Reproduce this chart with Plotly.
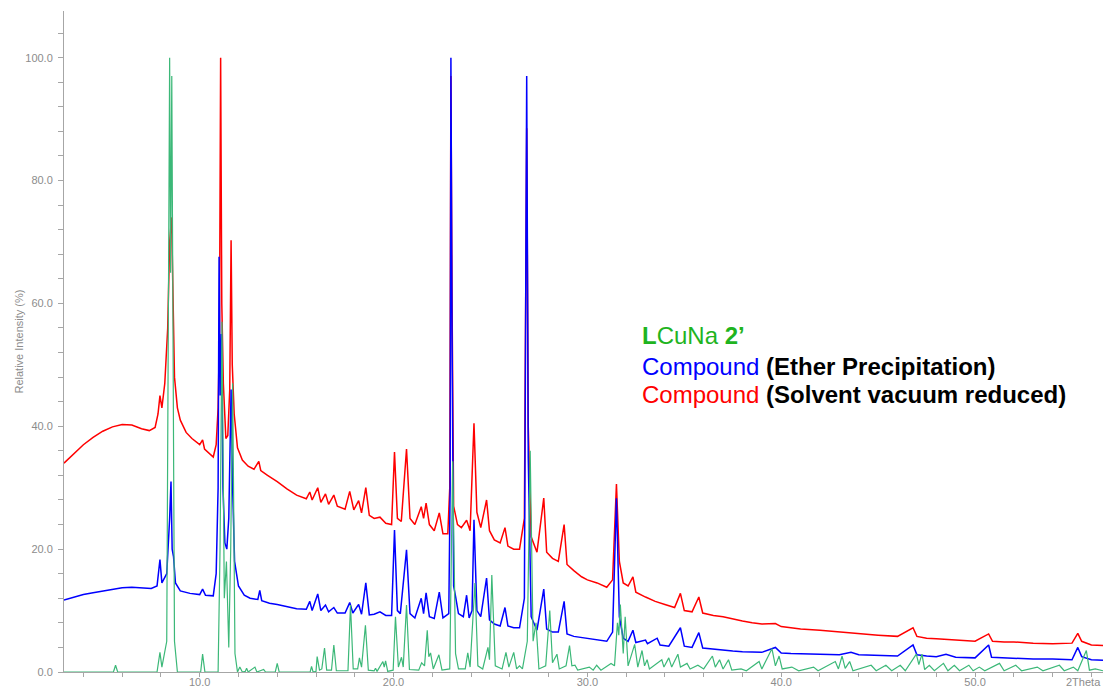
import plotly.graph_objects as go

# ---------------- data ----------------
# (2theta, relative intensity %) points for each pattern
red_points = [
    (3.0, 34.0), (3.5, 35.5), (4.0, 37.0), (4.5, 38.2), (5.0, 39.2), (5.5, 39.9),
    (6.0, 40.3), (6.5, 40.2), (7.0, 39.6), (7.4, 39.3), (7.7, 39.8), (7.85, 42.0),
    (7.95, 45.0), (8.05, 43.0), (8.2, 47.0), (8.35, 56.0), (8.45, 70.0), (8.55, 74.0),
    (8.62, 60.0), (8.7, 48.0), (8.85, 43.0), (9.0, 41.0), (9.3, 39.0), (9.6, 38.0),
    (10.0, 37.0), (10.15, 37.8), (10.25, 36.3), (10.5, 35.5), (10.7, 35.0), (10.85, 37.0),
    (10.95, 43.0), (11.02, 55.0), (11.08, 100.0), (11.14, 60.0), (11.22, 47.0),
    (11.35, 38.0), (11.45, 38.5), (11.55, 46.0), (11.62, 70.3), (11.68, 50.0),
    (11.78, 42.0), (11.95, 36.5), (12.2, 34.5), (12.5, 33.5), (12.8, 33.0),
    (13.05, 34.3), (13.15, 32.8), (13.5, 32.0), (14.0, 31.0), (14.5, 29.8),
    (15.0, 28.8), (15.5, 28.2), (15.68, 29.3), (15.8, 28.0), (16.09, 30.0),
    (16.25, 27.6), (16.49, 29.0), (16.65, 27.3), (16.92, 28.8), (17.1, 27.0),
    (17.5, 26.5), (17.74, 29.4), (17.95, 26.4), (18.2, 27.9), (18.35, 25.9),
    (18.57, 30.0), (18.75, 25.5), (19.0, 25.0), (19.3, 25.2), (19.6, 24.2),
    (19.9, 24.0), (20.05, 35.8), (20.2, 25.0), (20.4, 24.5), (20.67, 36.3),
    (20.85, 25.0), (21.1, 24.0), (21.43, 26.9), (21.55, 25.0), (21.68, 27.5),
    (21.85, 24.0), (22.1, 23.0), (22.36, 25.9), (22.55, 22.5), (22.8, 22.5),
    (22.9, 30.0), (22.96, 97.0), (23.02, 60.0), (23.1, 27.0), (23.3, 24.0),
    (23.5, 23.5), (23.77, 24.7), (23.95, 23.0), (24.15, 40.5), (24.3, 26.0),
    (24.5, 23.5), (24.8, 28.0), (24.95, 23.0), (25.2, 21.5), (25.5, 21.0),
    (25.75, 23.5), (25.9, 20.5), (26.2, 20.0), (26.5, 20.0), (26.75, 25.0),
    (26.87, 88.5), (26.95, 40.0), (27.1, 22.0), (27.4, 19.5), (27.75, 28.3),
    (27.9, 19.5), (28.2, 18.5), (28.5, 18.0), (28.8, 24.0), (28.95, 17.5),
    (29.3, 16.5), (29.7, 15.5), (30.0, 15.0), (30.5, 14.5), (31.0, 13.8),
    (31.3, 15.0), (31.5, 30.6), (31.65, 18.0), (31.85, 14.5), (32.1, 14.0),
    (32.35, 15.5), (32.5, 13.0), (33.0, 12.2), (33.5, 11.5), (34.0, 11.0),
    (34.5, 10.5), (34.8, 12.8), (35.0, 10.0), (35.4, 9.8), (35.75, 12.2),
    (35.95, 9.6), (36.5, 9.2), (37.0, 9.0), (37.5, 8.6), (38.0, 8.3), (38.5, 8.0),
    (39.0, 7.8), (39.7, 7.9), (40.0, 7.4), (40.5, 7.2), (41.0, 7.0), (42.0, 6.8),
    (43.0, 6.5), (44.0, 6.2), (45.0, 6.0), (46.0, 5.8), (46.8, 7.2), (47.0, 5.8),
    (47.5, 5.5), (48.0, 5.4), (49.0, 5.2), (50.0, 5.0), (50.7, 6.2), (50.9, 5.0),
    (51.5, 4.9), (52.0, 4.9), (53.0, 4.7), (54.0, 4.6), (55.0, 4.7), (55.3, 6.3),
    (55.5, 5.0), (56.0, 4.4), (56.6, 4.3),
]

blue_points = [
    (3.0, 11.7), (3.5, 12.2), (4.0, 12.6), (4.5, 12.9), (5.0, 13.2), (5.5, 13.5),
    (6.0, 13.7), (6.5, 13.8), (7.0, 13.7), (7.5, 13.6), (7.8, 14.0), (7.95, 18.3),
    (8.05, 14.5), (8.3, 16.0), (8.45, 25.0), (8.52, 31.0), (8.58, 20.0), (8.65, 18.8),
    (8.75, 14.5), (9.0, 13.2), (9.5, 12.8), (10.0, 12.6), (10.15, 13.5), (10.3, 12.5),
    (10.7, 12.4), (10.85, 16.0), (10.95, 30.0), (11.0, 67.6), (11.06, 45.0),
    (11.12, 55.0), (11.2, 30.0), (11.3, 21.0), (11.4, 20.0), (11.5, 25.0),
    (11.62, 46.0), (11.7, 30.0), (11.8, 18.0), (12.0, 14.0), (12.3, 12.5),
    (12.6, 12.0), (13.0, 11.8), (13.1, 13.3), (13.2, 11.6), (13.6, 11.2),
    (14.0, 11.0), (14.5, 10.6), (15.0, 10.3), (15.5, 10.2), (15.68, 11.5),
    (15.8, 10.0), (16.09, 12.7), (16.25, 10.0), (16.49, 10.9), (16.65, 9.8),
    (16.92, 10.5), (17.1, 9.6), (17.5, 9.6), (17.74, 11.3), (17.9, 9.6),
    (18.2, 11.0), (18.35, 9.4), (18.57, 14.5), (18.75, 9.3), (19.0, 9.4),
    (19.3, 9.8), (19.6, 9.2), (19.9, 9.2), (20.05, 23.1), (20.2, 10.0),
    (20.35, 9.5), (20.67, 19.9), (20.85, 9.5), (21.1, 8.8), (21.43, 12.0),
    (21.55, 9.5), (21.68, 12.9), (21.85, 9.0), (22.1, 8.7), (22.36, 13.0),
    (22.55, 8.8), (22.85, 9.5), (22.92, 30.0), (22.96, 100.0), (23.02, 55.0),
    (23.1, 14.0), (23.2, 12.3), (23.35, 9.5), (23.6, 9.0), (23.77, 12.5),
    (23.9, 8.8), (24.05, 10.0), (24.15, 24.8), (24.3, 10.0), (24.5, 9.0),
    (24.8, 15.3), (24.95, 8.5), (25.2, 7.8), (25.5, 7.5), (25.75, 10.5),
    (25.9, 7.5), (26.2, 7.2), (26.5, 7.2), (26.75, 12.0), (26.87, 97.0),
    (26.95, 35.0), (27.1, 9.0), (27.4, 6.8), (27.75, 13.5), (27.9, 7.0),
    (28.2, 6.5), (28.5, 6.5), (28.8, 11.5), (28.95, 6.2), (29.3, 5.8),
    (29.7, 5.6), (30.0, 5.5), (30.5, 5.3), (31.0, 5.0), (31.3, 6.5), (31.5, 28.3),
    (31.65, 9.0), (31.85, 5.5), (32.1, 5.0), (32.35, 6.8), (32.5, 4.8),
    (33.0, 5.2), (33.1, 4.6), (33.6, 5.5), (33.75, 4.4), (34.2, 4.2), (34.8, 7.2),
    (35.0, 4.2), (35.4, 4.0), (35.75, 6.4), (35.95, 3.9), (36.5, 3.7), (37.0, 3.5),
    (37.5, 3.4), (38.0, 3.3), (38.5, 3.2), (39.0, 3.2), (39.7, 4.0), (40.0, 3.1),
    (40.5, 3.0), (41.0, 3.0), (42.0, 2.9), (43.0, 2.8), (43.6, 3.2), (44.0, 2.8),
    (45.0, 2.7), (46.0, 2.6), (46.8, 4.4), (47.0, 2.8), (47.5, 2.6), (48.0, 2.5),
    (48.5, 2.9), (49.0, 2.4), (50.0, 2.3), (50.7, 4.4), (50.85, 2.4), (51.5, 2.3),
    (52.0, 2.2), (53.0, 2.1), (54.0, 2.1), (55.0, 2.0), (55.3, 4.0), (55.5, 2.5),
    (56.0, 2.0), (56.6, 1.9),
]

green_points = [
    (3.0, 0.0), (5.55, 0.0), (5.66, 1.1), (5.77, 0.0), (7.8, 0.0), (7.95, 3.2),
    (8.05, 0.8), (8.15, 2.5), (8.3, 5.0), (8.45, 100.0), (8.5, 65.0), (8.56, 97.0),
    (8.7, 5.0), (8.85, 0.0), (10.05, 0.0), (10.15, 2.9), (10.27, 0.0), (10.95, 0.0),
    (11.05, 20.0), (11.15, 57.0), (11.27, 12.0), (11.38, 18.0), (11.5, 4.0),
    (11.6, 20.0), (11.7, 47.0), (11.82, 3.0), (11.95, 0.0), (12.07, 0.8),
    (12.2, 0.0), (12.35, 0.1), (12.42, 0.6), (12.5, 0.0), (12.85, 0.8),
    (12.95, 0.0), (13.3, 0.4), (13.4, 0.0), (13.9, 0.0), (14.0, 1.4), (14.1, 0.0),
    (15.7, 0.0), (15.77, 0.9), (15.85, 0.0), (16.0, 0.1), (16.06, 2.5),
    (16.18, 0.3), (16.3, 0.5), (16.44, 3.9), (16.55, 0.3), (16.8, 0.3),
    (16.92, 4.4), (17.05, 0.2), (17.65, 0.2), (17.78, 10.9), (17.92, 0.5),
    (18.15, 0.5), (18.24, 2.3), (18.35, 0.8), (18.55, 7.6), (18.7, 0.3),
    (19.0, 0.2), (19.07, 0.6), (19.15, 0.1), (19.45, 1.7), (19.52, 0.8),
    (19.59, 1.8), (19.7, 0.1), (19.98, 0.3), (20.1, 9.0), (20.25, 0.8),
    (20.41, 2.4), (20.5, 0.8), (20.67, 10.9), (20.82, 0.4), (21.3, 0.3),
    (21.45, 1.5), (21.6, 1.0), (21.74, 6.8), (21.82, 2.5), (21.91, 3.1),
    (22.05, 0.5), (22.34, 2.8), (22.5, 0.3), (22.9, 0.5), (23.05, 34.3),
    (23.2, 3.0), (23.35, 0.5), (23.7, 0.5), (23.83, 3.1), (23.95, 0.8),
    (24.2, 14.5), (24.35, 1.0), (24.6, 0.5), (24.87, 4.0), (24.95, 2.0),
    (25.07, 15.8), (25.25, 1.0), (25.6, 0.5), (25.8, 3.2), (25.95, 0.8),
    (26.2, 3.2), (26.35, 0.5), (26.5, 1.0), (26.65, 0.5), (26.9, 5.0),
    (27.05, 36.0), (27.2, 5.0), (27.35, 8.0), (27.5, 0.5), (27.85, 1.0),
    (28.06, 10.0), (28.2, 1.5), (28.43, 2.9), (28.55, 0.5), (28.9, 1.0),
    (29.08, 4.3), (29.2, 1.0), (29.36, 1.1), (29.5, 0.3), (30.1, 0.8),
    (30.3, 0.3), (30.48, 1.1), (30.7, 0.3), (31.22, 1.4), (31.4, 1.0),
    (31.55, 8.0), (31.62, 6.0), (31.7, 11.0), (31.85, 3.0), (31.95, 9.0),
    (32.1, 1.0), (32.44, 4.5), (32.6, 0.8), (32.82, 3.5), (32.95, 1.0),
    (33.08, 2.0), (33.2, 0.5), (33.84, 2.0), (33.95, 0.8), (34.2, 2.3),
    (34.35, 0.8), (34.67, 2.9), (34.8, 0.8), (35.14, 1.4), (35.3, 0.5),
    (35.7, 1.1), (36.0, 0.5), (36.45, 2.6), (36.6, 0.8), (36.82, 2.0),
    (37.0, 0.5), (37.28, 2.0), (37.45, 0.3), (37.93, 0.5), (38.2, 0.2),
    (38.86, 1.7), (39.0, 0.5), (39.52, 3.8), (39.7, 1.0), (39.89, 2.6),
    (40.05, 0.5), (40.55, 0.8), (40.9, 0.2), (41.67, 0.8), (41.9, 0.2),
    (42.79, 1.7), (42.95, 0.5), (43.14, 2.6), (43.3, 0.6), (43.53, 1.7),
    (43.7, 0.2), (44.64, 1.1), (44.9, 0.2), (45.4, 1.1), (45.7, 0.2),
    (46.14, 1.1), (46.4, 0.2), (46.97, 2.9), (47.1, 1.2), (47.26, 2.9),
    (47.4, 0.4), (47.64, 1.1), (47.9, 0.2), (48.37, 1.4), (48.6, 0.2),
    (48.93, 1.1), (49.2, 0.2), (49.68, 1.1), (49.9, 0.2), (50.22, 0.8),
    (50.5, 0.2), (51.26, 1.4), (51.5, 0.2), (52.1, 1.1), (52.4, 0.2),
    (53.21, 0.8), (53.5, 0.2), (54.35, 1.1), (54.6, 0.2), (55.07, 0.8),
    (55.3, 0.2), (55.74, 3.5), (55.9, 0.3), (56.2, 0.5), (56.6, 0.2),
]

x_tick_values = [10, 20, 30, 40, 50]
x_tick_labels = ["10.0", "20.0", "30.0", "40.0", "50.0"]
y_tick_values = [0, 20, 40, 60, 80, 100]
y_tick_labels = ["0.0", "20.0", "40.0", "60.0", "80.0", "100.0"]

x_range = [3.0, 56.6]
y_range = [0.0, 107.6]

# ---------------- figure ----------------
AX = "#a6a6a6"
TXT = "#8c8c8c"
FONT = "Liberation Sans, Arial, sans-serif"


def split(points):
    return [p[0] for p in points], [p[1] for p in points]


fig = go.Figure()
for pts, col, w in [(red_points, "#ff0000", 1.5), (blue_points, "#0000ff", 1.5),
                    (green_points, "#3cb878", 1.2)]:
    xs, ys = split(pts)
    fig.add_trace(go.Scatter(x=xs, y=ys, mode="lines",
                             line=dict(color=col, width=w),
                             hoverinfo="skip", showlegend=False))

fig.update_layout(
    width=1106, height=687,
    margin=dict(l=64, r=3, t=11, b=15),
    paper_bgcolor="white", plot_bgcolor="white",
    font=dict(family=FONT, color=TXT, size=11),
    showlegend=False,
)
fig.update_xaxes(
    range=x_range, showgrid=False, zeroline=False,
    showline=True, linecolor=AX, linewidth=1,
    tickmode="array", tickvals=x_tick_values, ticktext=x_tick_labels,
    ticks="outside", ticklen=4, tickcolor=AX, tickwidth=1,
    minor=dict(dtick=2, tick0=0, ticks="outside", ticklen=4, tickcolor=AX, showgrid=False),
    tickfont=dict(size=11, color=TXT, family=FONT), automargin=False,
    ticklabelstandoff=-4,
)
fig.update_yaxes(
    range=y_range, showgrid=False, zeroline=False,
    showline=True, linecolor=AX, linewidth=1,
    tickmode="array", tickvals=y_tick_values, ticktext=y_tick_labels,
    ticks="outside", ticklen=5, tickcolor=AX, tickwidth=1,
    minor=dict(dtick=4, tick0=0, ticks="outside", ticklen=5, tickcolor=AX, showgrid=False),
    tickfont=dict(size=11, color=TXT, family=FONT), automargin=False,
    ticklabelstandoff=3,
)

# axis titles as annotations
fig.add_annotation(text="Relative Intensity (%)", xref="paper", yref="paper",
                   x=-46 / 1039, y=0.5, textangle=-90, showarrow=False,
                   font=dict(size=11, color=TXT, family=FONT), xanchor="center", yanchor="middle")
fig.add_annotation(text="2Theta", xref="paper", yref="paper", x=1.0, y=0,
                   xanchor="right", yanchor="top", yshift=-2, showarrow=False,
                   font=dict(size=11, color=TXT, family=FONT))

# label block
GREEN_TXT = "#1fb41f"
labels = [
    (54.7, "<span style='color:%s'><b>L</b>CuNa <b>2’</b></span>" % GREEN_TXT),
    (49.8, "<span style='color:#0000ff'>Compound</span> <b>(Ether Precipitation)</b>"),
    (45.1, "<span style='color:#ff0000'>Compound</span> <b>(Solvent vacuum reduced)</b>"),
]
for yv, t in labels:
    fig.add_annotation(text=t, x=32.7, y=yv, xref="x", yref="y", showarrow=False,
                       xanchor="left", yanchor="middle",
                       font=dict(size=24, color="#000000", family=FONT))

fig.write_html("out.html")
